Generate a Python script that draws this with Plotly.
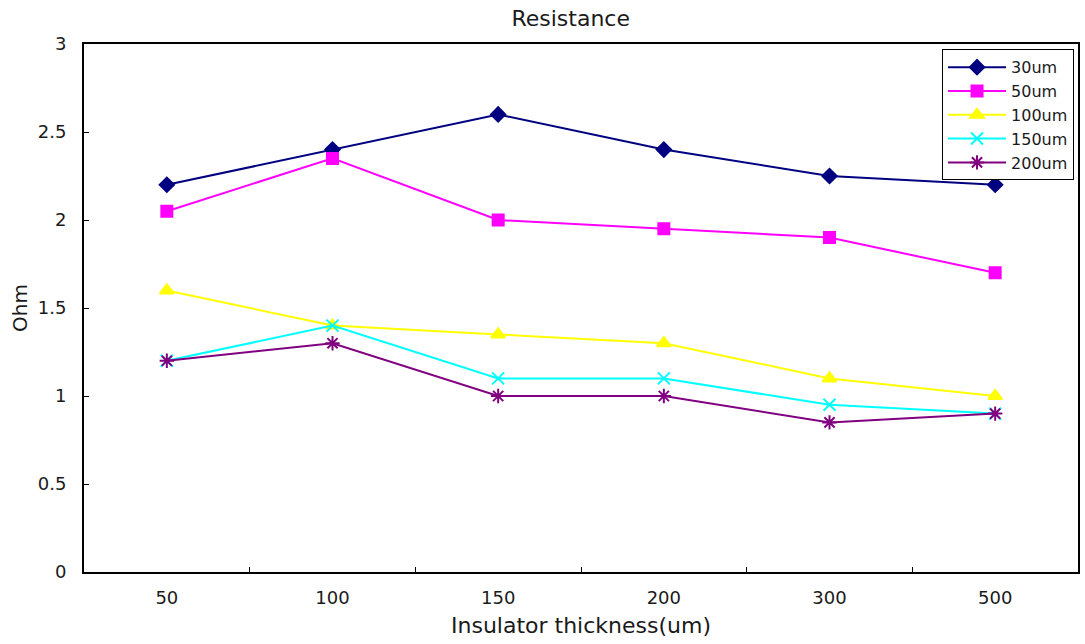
import plotly.graph_objects as go

# Insulator thickness categories (x axis)
thickness = ["50", "100", "150", "200", "300", "500"]

# Resistance (Ohm) for each conductor width
r_30um = [2.2, 2.4, 2.6, 2.4, 2.25, 2.2]
r_50um = [2.05, 2.35, 2.0, 1.95, 1.9, 1.7]
r_100um = [1.6, 1.4, 1.35, 1.3, 1.1, 1.0]
r_150um = [1.2, 1.4, 1.1, 1.1, 0.95, 0.9]
r_200um = [1.2, 1.3, 1.0, 1.0, 0.85, 0.9]

series = [
    ("30um", r_30um, "#000080", "diamond", 11),
    ("50um", r_50um, "#FF00FF", "square", 11),
    ("100um", r_100um, "#FFFF00", "triangle-up", 12),
    ("150um", r_150um, "#00FFFF", "x-thin", 12),
    ("200um", r_200um, "#800080", "asterisk", 12),
]

FONT = "DejaVu Sans"
TXT = "#1a1a1a"

fig = go.Figure()
for name, vals, color, symbol, size in series:
    fig.add_trace(go.Scatter(
        x=thickness, y=vals, name=name, mode="lines+markers",
        line=dict(color=color, width=2),
        marker=dict(symbol=symbol, size=size, color=color,
                    line=dict(color=color, width=2)),
    ))

fig.update_layout(
    width=1085, height=644,
    margin=dict(l=84, r=5, t=44, b=72),
    paper_bgcolor="white", plot_bgcolor="white",
    font=dict(family=FONT, size=17, color=TXT),
    title=dict(text="Resistance", x=0.526, xanchor="center", y=0.972,
               yanchor="middle", font=dict(family=FONT, size=22, color=TXT)),
    showlegend=True,
    legend=dict(x=0.996, y=0.99, xanchor="right", yanchor="top",
                bordercolor="black", borderwidth=1, bgcolor="white",
                font=dict(family=FONT, size=16, color=TXT),
                itemwidth=58, tracegroupgap=0),
)

fig.update_xaxes(
    type="category", range=[-0.5, 5.5],
    showline=True, linecolor="black", linewidth=2, mirror=True,
    ticks="inside", tickson="boundaries", ticklen=5, tickcolor="black",
    showgrid=False, zeroline=False, ticklabelstandoff=8,
    tickfont=dict(family=FONT, size=18, color=TXT),
    title=dict(text="Insulator thickness(um)", standoff=11,
               font=dict(family=FONT, size=22, color=TXT)),
)
fig.update_yaxes(
    range=[0, 3], dtick=0.5,
    showline=True, linecolor="black", linewidth=2, mirror=True,
    ticks="inside", ticklen=5, tickcolor="black",
    showgrid=False, zeroline=False, ticklabelstandoff=12,
    tickfont=dict(family=FONT, size=18, color=TXT),
    title=dict(text="Ohm", standoff=5,
               font=dict(family=FONT, size=20, color=TXT)),
)

fig.write_html("out.html")
